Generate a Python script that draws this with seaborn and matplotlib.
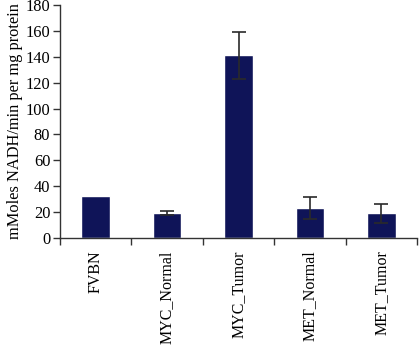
import matplotlib
matplotlib.use("Agg")
import matplotlib.pyplot as plt
import seaborn as sns
import numpy as np
import pandas as pd

categories = ["FVBN", "MYC_Normal", "MYC_Tumor", "MET_Normal", "MET_Tumor"]
values = [32.7, 19.2, 141.0, 23.2, 19.0]
errors = [np.nan, 1.4, 18.5, 8.5, 7.3]
y_ticks = [0, 20, 40, 60, 80, 100, 120, 140, 160, 180]

sns.set_theme(style="white")
plt.rcParams["font.family"] = ["Liberation Serif", "DejaVu Serif"]

df = pd.DataFrame({"group": categories, "value": values})

fig = plt.figure(figsize=(4.19, 3.47), dpi=100)
ax = fig.add_axes([60/419, (347-238)/347, (417-60)/419, (238-5)/347])

sns.barplot(data=df, x="group", y="value", color="#0f1458", width=0.4,
            saturation=1, ax=ax, errorbar=None)
ax.errorbar(np.arange(len(categories)), values, yerr=errors, fmt="none",
            ecolor="#2a2a2a", elinewidth=1.2, capsize=5, capthick=1.2)

ax.set_xlim(-0.5, len(categories) - 0.5)
ax.set_ylim(0, 180)
ax.set_yticks(y_ticks)
ax.set_yticklabels([str(t) for t in y_ticks], fontsize=11.8, color="black")
ax.set_xticks(np.arange(len(categories)))
ax.set_xticklabels(categories, rotation=90, fontsize=11.5, color="black")
ax.set_xticks(np.arange(-0.5, len(categories)), minor=True)
ax.tick_params(axis="x", which="major", length=0, pad=9)
ax.tick_params(axis="x", which="minor", length=5, width=1, color="#333333", direction="out", bottom=True)
ax.tick_params(axis="y", which="major", length=5, width=1, color="#333333", direction="out", left=True, pad=2)
ax.set_xlabel("")
ax.set_ylabel("mMoles NADH/min per mg protein", fontsize=11.8, color="black", labelpad=2)

for s in ["top", "right"]:
    ax.spines[s].set_visible(False)
for s in ["left", "bottom"]:
    ax.spines[s].set_color("#333333")
    ax.spines[s].set_linewidth(1)

fig.savefig("out.png", dpi=100)
